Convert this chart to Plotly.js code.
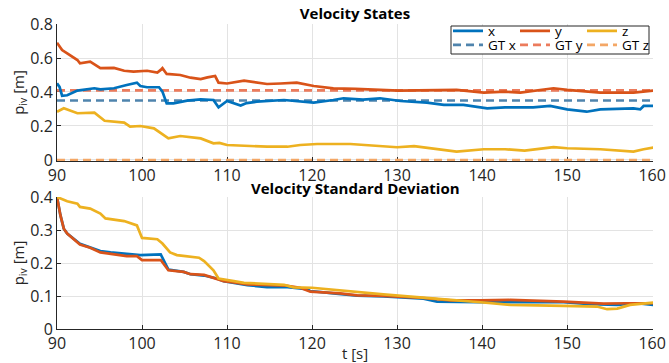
<!DOCTYPE html>
<html>
<head>
<meta charset="utf-8">
<script src="https://cdn.plot.ly/plotly-3.0.1.min.js"></script>
<style>html,body{margin:0;padding:0;background:#fff;}#chart{width:669px;height:363px;}</style>
</head>
<body>
<div id="chart"></div>
<script>
// ---- Velocity states (top) ----
var tVelX = [90, 90.3, 90.6, 91.2, 92.4, 94.4, 95.1, 96.7, 98.2, 99.4, 99.8, 100.6, 102.0, 102.4, 102.9, 103.7, 105.3, 106.9, 108.4, 109.0, 110.0, 110.8, 111.6, 112.3, 113.5, 116.7, 118.6, 120.2, 122.5, 123.7, 126.0, 128.0, 130.4, 133.5, 135.5, 137.8, 140.6, 142.7, 146.0, 148.0, 150.0, 152.3, 153.9, 157.8, 158.6, 159.0, 160.2];
var velX  = [0.451, 0.43, 0.378, 0.381, 0.408, 0.422, 0.416, 0.422, 0.441, 0.455, 0.435, 0.428, 0.428, 0.402, 0.333, 0.333, 0.349, 0.357, 0.353, 0.31, 0.347, 0.333, 0.32, 0.335, 0.343, 0.353, 0.343, 0.337, 0.353, 0.363, 0.355, 0.363, 0.347, 0.337, 0.324, 0.324, 0.304, 0.31, 0.31, 0.318, 0.298, 0.284, 0.298, 0.304, 0.298, 0.318, 0.318];

var tVelY = [90, 90.6, 91.2, 92.4, 92.7, 93.9, 95.1, 96.7, 97.9, 99.0, 100.6, 101.8, 102.2, 102.4, 102.9, 104.5, 105.7, 106.9, 107.7, 108.6, 109.0, 110.0, 112.0, 114.7, 116.3, 118.2, 120.2, 122.5, 125.1, 130.2, 137.0, 140.2, 142.7, 144.5, 148.4, 150.0, 153.9, 157.8, 160.2];
var velY  = [0.69, 0.647, 0.627, 0.588, 0.569, 0.578, 0.54, 0.542, 0.525, 0.52, 0.525, 0.514, 0.53, 0.54, 0.506, 0.5, 0.484, 0.476, 0.486, 0.494, 0.455, 0.45, 0.467, 0.447, 0.45, 0.455, 0.435, 0.421, 0.418, 0.408, 0.412, 0.396, 0.402, 0.396, 0.422, 0.412, 0.396, 0.396, 0.408];

var tVelZ = [90, 90.8, 92.4, 94.4, 95.6, 97.9, 98.6, 99.8, 101.4, 102.2, 103.1, 104.5, 106.9, 108.4, 109.1, 110.0, 112.4, 114.7, 117.1, 118.6, 120.6, 124.5, 130.0, 132.0, 137.0, 140.2, 142.7, 145.0, 148.4, 150.0, 153.9, 157.8, 159.0, 160.2];
var velZ  = [0.284, 0.304, 0.275, 0.278, 0.231, 0.22, 0.196, 0.2, 0.186, 0.16, 0.127, 0.141, 0.127, 0.098, 0.1, 0.088, 0.082, 0.078, 0.078, 0.088, 0.094, 0.094, 0.075, 0.082, 0.049, 0.063, 0.063, 0.055, 0.075, 0.069, 0.063, 0.049, 0.063, 0.073];

// ground truth
var tGT = [90, 160.2];
var gtX = 0.35, gtY = 0.41, gtZ = 0;

// ---- Velocity standard deviation (bottom) ----
var tStdX = [90, 90.4, 90.8, 91.2, 92.7, 93.9, 95.1, 96.3, 98.2, 99.8, 102.2, 102.5, 103.1, 104.9, 105.7, 107.3, 108.8, 109.6, 110.8, 112.4, 114.7, 117.1, 119.4, 119.8, 122.5, 125.3, 128.4, 130.0, 133.1, 134.7, 136.3, 139.8, 145.7, 149.6, 152.7, 155.9, 158.2, 160.2];
var stdX  = [0.4, 0.345, 0.304, 0.289, 0.258, 0.248, 0.236, 0.232, 0.227, 0.224, 0.226, 0.209, 0.18, 0.173, 0.166, 0.162, 0.153, 0.145, 0.14, 0.133, 0.127, 0.127, 0.121, 0.115, 0.108, 0.101, 0.099, 0.097, 0.092, 0.083, 0.082, 0.081, 0.081, 0.081, 0.075, 0.073, 0.078, 0.073];

var tStdY = [90, 90.4, 90.8, 91.2, 92.7, 93.9, 95.1, 96.3, 98.2, 99.4, 100.0, 102.2, 102.7, 103.1, 104.9, 105.7, 107.3, 108.8, 109.6, 110.8, 112.4, 117.1, 118.6, 119.8, 121.8, 123.3, 125.3, 128.4, 133.1, 134.7, 136.3, 139.8, 143.3, 149.6, 152.7, 154.3, 157.0, 160.2];
var stdY  = [0.4, 0.345, 0.304, 0.289, 0.256, 0.246, 0.232, 0.227, 0.221, 0.221, 0.209, 0.209, 0.193, 0.178, 0.173, 0.166, 0.164, 0.153, 0.145, 0.141, 0.135, 0.131, 0.125, 0.113, 0.11, 0.108, 0.102, 0.1, 0.094, 0.09, 0.087, 0.087, 0.088, 0.083, 0.08, 0.077, 0.078, 0.078];

var tStdZ = [90, 91.2, 92.4, 92.7, 93.9, 95.1, 95.7, 97.9, 99.4, 100.0, 101.8, 102.4, 103.3, 104.1, 106.7, 107.3, 108.4, 109.0, 110.8, 112.0, 116.7, 117.8, 120.0, 123.3, 125.3, 128.4, 131.6, 133.9, 136.3, 139.8, 143.3, 149.6, 153.5, 154.7, 155.9, 157.4, 160.2];
var stdZ  = [0.4, 0.387, 0.38, 0.37, 0.365, 0.35, 0.335, 0.327, 0.314, 0.276, 0.272, 0.259, 0.232, 0.224, 0.216, 0.206, 0.178, 0.153, 0.145, 0.14, 0.134, 0.126, 0.125, 0.118, 0.113, 0.105, 0.098, 0.092, 0.088, 0.081, 0.073, 0.07, 0.068, 0.06, 0.062, 0.073, 0.08];

var seriesNames = ['x', 'y', 'z'];
var gtNames = ['GT x', 'GT y', 'GT z'];

var C = {x:'#0072BD', y:'#D95319', z:'#EDB120', gx:'#4F84AD', gy:'#EC7B5C', gz:'#F4A766'};
var LW = 2.7;
var FONT = '"Open Sans", "Noto Sans", sans-serif';

function line(x, y, name, color, xa, ya, legend, dash, show) {
  return {x:x, y:y, name:name, type:'scatter', mode:'lines', xaxis:xa, yaxis:ya,
    line:{color:color, width:LW, dash:dash||'solid'}, showlegend:!!show, legend:legend||'legend', hoverinfo:'skip'};
}
function constLine(v) { return tGT.map(function(){return v;}); }

var traces = [
  line(tGT, constLine(gtX), gtNames[0], C.gx, 'x', 'y', 'legend2', '8px,5px', true),
  line(tGT, constLine(gtY), gtNames[1], C.gy, 'x', 'y', 'legend2', '8px,5px', true),
  line(tGT, constLine(gtZ), gtNames[2], C.gz, 'x', 'y', 'legend2', '8px,5px', true),
  line(tVelX, velX, seriesNames[0], C.x, 'x', 'y', 'legend', null, true),
  line(tVelY, velY, seriesNames[1], C.y, 'x', 'y', 'legend', null, true),
  line(tVelZ, velZ, seriesNames[2], C.z, 'x', 'y', 'legend', null, true),
  line(tStdX, stdX, seriesNames[0], C.x, 'x2', 'y2'),
  line(tStdY, stdY, seriesNames[1], C.y, 'x2', 'y2'),
  line(tStdZ, stdZ, seriesNames[2], C.z, 'x2', 'y2')
];

var W = 669, H = 363;
function px(p){return p/W;}
function py(p){return 1 - p/H;}
var xdom = [px(57), px(653)];

var axisCommon = {
  showgrid:true, gridcolor:'#e3e3e3', gridwidth:1,
  showline:true, linecolor:'#262626', linewidth:1,
  ticks:'inside', ticklen:4, tickcolor:'#262626', tickwidth:1,
  zeroline:false, automargin:false, mirror:false, layer:'below traces',
  tickfont:{family:FONT, size:16, color:'#262626'}
};

var legendCommon = {orientation:'h', xanchor:'left', yanchor:'top', bgcolor:'rgba(0,0,0,0)', borderwidth:0,
  font:{family:FONT, size:13.5, color:'#000'}, entrywidth:22, entrywidthmode:'pixels', tracegroupgap:0, itemwidth:30, traceorder:'normal'};

var layout = {
  width:W, height:H,
  margin:{l:0, r:0, t:0, b:0},
  paper_bgcolor:'#ffffff', plot_bgcolor:'#ffffff',
  font:{family:FONT, color:'#262626'},
  title:{text:'<b>Velocity States</b>', x:px(355), xanchor:'center', y:py(14), yanchor:'middle', font:{family:FONT, size:15, color:'#000'}},
  xaxis:Object.assign({}, axisCommon, {domain:xdom, range:[90, 160.1], tickvals:[90,100,110,120,130,140,150,160], anchor:'y'}),
  yaxis:Object.assign({}, axisCommon, {domain:[py(161), py(24)], range:[-0.006, 0.8], tickvals:[0,0.2,0.4,0.6,0.8], anchor:'x',
    title:{text:'p<sub>iv</sub> [m]', font:{family:FONT, size:15, color:'#262626'}, standoff:2}}),
  xaxis2:Object.assign({}, axisCommon, {domain:xdom, range:[90, 160.1], tickvals:[90,100,110,120,130,140,150,160], anchor:'y2',
    title:{text:'t [s]', font:{family:FONT, size:15, color:'#262626'}, standoff:0}}),
  yaxis2:Object.assign({}, axisCommon, {domain:[py(329), py(197)], range:[0, 0.4], tickvals:[0,0.1,0.2,0.3,0.4], anchor:'x2',
    title:{text:'p<sub>iv</sub> [m]', font:{family:FONT, size:15, color:'#262626'}, standoff:2}}),
  legend:Object.assign({}, legendCommon, {x:px(448), y:py(15.5)}),
  legend2:Object.assign({}, legendCommon, {x:px(448), y:py(29.5)}),
  shapes:[{type:'rect', xref:'paper', yref:'paper', x0:px(451), x1:px(649), y0:py(26), y1:py(54),
    fillcolor:'#ffffff', line:{color:'#262626', width:1}, layer:'above'}],
  annotations:[{text:'<b>Velocity Standard Deviation</b>', xref:'paper', yref:'paper', x:px(355), y:py(188),
    xanchor:'center', yanchor:'middle', showarrow:false, font:{family:FONT, size:15, color:'#000'}}]
};

Plotly.newPlot('chart', traces, layout, {staticPlot:true, displayModeBar:false});
</script>
</body>
</html>
